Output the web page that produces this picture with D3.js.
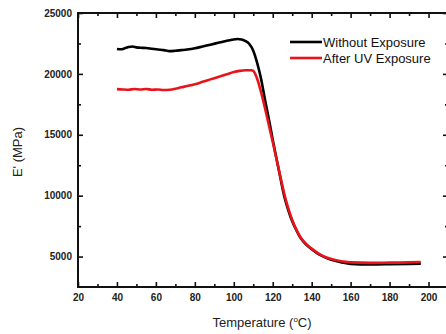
<!DOCTYPE html>
<html>
<head>
<meta charset="utf-8">
<script src="https://cdn.jsdelivr.net/npm/d3@7"></script>
<style>
  html, body { margin: 0; padding: 0; background: #fff; overflow: hidden; }
  svg { display: block; font-family: "Liberation Sans", Arial, sans-serif; }
</style>
</head>
<body>
<svg id="chart" width="446" height="334"></svg>
<script>
const seriesNames = ["Without Exposure", "After UV Exposure"];
const seriesColors = ["#000000", "#e8141b"];

const tempWithout = [40, 42, 44, 46, 48, 50, 52, 55, 58, 61, 64, 67, 70, 73, 76, 80, 84, 88, 92, 96, 99, 102, 104, 106, 108, 110, 112, 114, 116, 118, 120, 122, 124, 126, 128, 130, 132, 134, 137, 140, 144, 148, 152, 156, 160, 170, 180, 190, 196];
const modWithout = [22050, 22020, 22100, 22200, 22250, 22180, 22150, 22120, 22060, 22000, 21950, 21870, 21900, 21950, 22000, 22100, 22250, 22400, 22550, 22700, 22800, 22870, 22820, 22700, 22450, 21900, 20900, 19600, 17900, 16300, 14600, 13000, 11400, 9900, 8800, 7900, 7200, 6600, 6000, 5600, 5150, 4850, 4650, 4500, 4400, 4350, 4370, 4400, 4420];

const tempUV = [40, 43, 46, 49, 52, 55, 58, 61, 64, 67, 70, 73, 76, 80, 84, 88, 92, 96, 100, 103, 106, 109, 110, 112, 114, 116, 118, 120, 122, 124, 126, 128, 130, 132, 134, 137, 140, 144, 148, 152, 156, 160, 170, 180, 190, 196];
const modUV = [18750, 18720, 18700, 18760, 18720, 18760, 18700, 18720, 18680, 18700, 18780, 18900, 19000, 19150, 19350, 19550, 19750, 19950, 20150, 20250, 20300, 20300, 20250, 19600, 18500, 17200, 15800, 14400, 12950, 11500, 10100, 8950, 8000, 7250, 6650, 6050, 5650, 5200, 4900, 4720, 4600, 4520, 4480, 4500, 4520, 4550];

const xTicks = [20, 40, 60, 80, 100, 120, 140, 160, 180, 200];
const yTicks = [5000, 10000, 15000, 20000, 25000];

const margin = {top: 13, left: 78};
const w = 370, h = 274;

const svg = d3.select("#chart");
const g = svg.append("g").attr("transform", `translate(${margin.left},${margin.top})`);

const x = d3.scaleLinear().domain([20, 210]).range([0, w]);
const y = d3.scaleLinear().domain([2500, 25000]).range([h, 0]);

const xMinor = d3.range(30, 210, 20);
const yMinor = d3.range(7500, 25000, 5000);
const fmt = d3.format("d");

function styleAxis(sel) {
  sel.select(".domain").remove();
  sel.selectAll(".tick line").attr("stroke", "#111").attr("stroke-width", 1.6);
  sel.selectAll(".tick text")
    .attr("fill", "#222")
    .style("font-size", "10px")
    .style("font-weight", "bold");
}

// bottom axis
g.append("g").attr("transform", `translate(0,${h})`)
  .call(d3.axisBottom(x).tickValues(xTicks).tickFormat(fmt).tickSizeInner(-5).tickSizeOuter(0).tickPadding(7))
  .call(styleAxis);
g.append("g").attr("transform", `translate(0,${h})`)
  .call(d3.axisBottom(x).tickValues(xMinor).tickSizeInner(-3).tickSizeOuter(0).tickFormat(""))
  .call(styleAxis);

// top axis
g.append("g")
  .call(d3.axisTop(x).tickValues(xTicks).tickSizeInner(-5).tickSizeOuter(0).tickFormat(""))
  .call(styleAxis);
g.append("g")
  .call(d3.axisTop(x).tickValues(xMinor).tickSizeInner(-3).tickSizeOuter(0).tickFormat(""))
  .call(styleAxis);

// left axis
g.append("g")
  .call(d3.axisLeft(y).tickValues(yTicks).tickFormat(fmt).tickSizeInner(-5).tickSizeOuter(0).tickPadding(6))
  .call(styleAxis);
g.append("g")
  .call(d3.axisLeft(y).tickValues(yMinor).tickSizeInner(-3).tickSizeOuter(0).tickFormat(""))
  .call(styleAxis);

// right axis
g.append("g").attr("transform", `translate(${w},0)`)
  .call(d3.axisRight(y).tickValues(yTicks).tickSizeInner(-5).tickSizeOuter(0).tickFormat(""))
  .call(styleAxis);
g.append("g").attr("transform", `translate(${w},0)`)
  .call(d3.axisRight(y).tickValues(yMinor).tickSizeInner(-3).tickSizeOuter(0).tickFormat(""))
  .call(styleAxis);

// frame
g.append("rect")
  .attr("x", 0).attr("y", 0).attr("width", w).attr("height", h)
  .attr("fill", "none").attr("stroke", "#111").attr("stroke-width", 2);

const line = d3.line()
  .x(d => x(d[0]))
  .y(d => y(d[1]))
  .curve(d3.curveMonotoneX);

const series = [
  d3.zip(tempWithout, modWithout),
  d3.zip(tempUV, modUV)
];

series.forEach((s, i) => {
  g.append("path")
    .datum(s)
    .attr("fill", "none")
    .attr("stroke", seriesColors[i])
    .attr("stroke-width", 2.6)
    .attr("stroke-linejoin", "round")
    .attr("d", line);
});

// legend
const legend = g.append("g").attr("transform", `translate(${212},${29})`);
seriesNames.forEach((name, i) => {
  const row = legend.append("g").attr("transform", `translate(0,${i * 16})`);
  row.append("line")
    .attr("x1", 0).attr("x2", 32).attr("y1", 0).attr("y2", 0)
    .attr("stroke", seriesColors[i]).attr("stroke-width", 2.6);
  row.append("text")
    .attr("x", 33).attr("y", 0).attr("dy", "0.36em")
    .attr("fill", "#111")
    .style("font-size", "13px")
    .text(name);
});

// axis titles
svg.append("text")
  .attr("transform", `translate(22,${152}) rotate(-90)`)
  .attr("text-anchor", "middle")
  .attr("fill", "#222")
  .style("font-size", "13px")
  .text("E' (MPa)");

const xt = svg.append("text")
  .attr("x", margin.left + w / 2 - 1)
  .attr("y", 327)
  .attr("text-anchor", "middle")
  .attr("fill", "#222")
  .style("font-size", "13px");
xt.append("tspan").text("Temperature (");
xt.append("tspan").attr("dy", "-5").style("font-size", "8px").text("o");
xt.append("tspan").attr("dy", "5").text("C)");
</script>
</body>
</html>
